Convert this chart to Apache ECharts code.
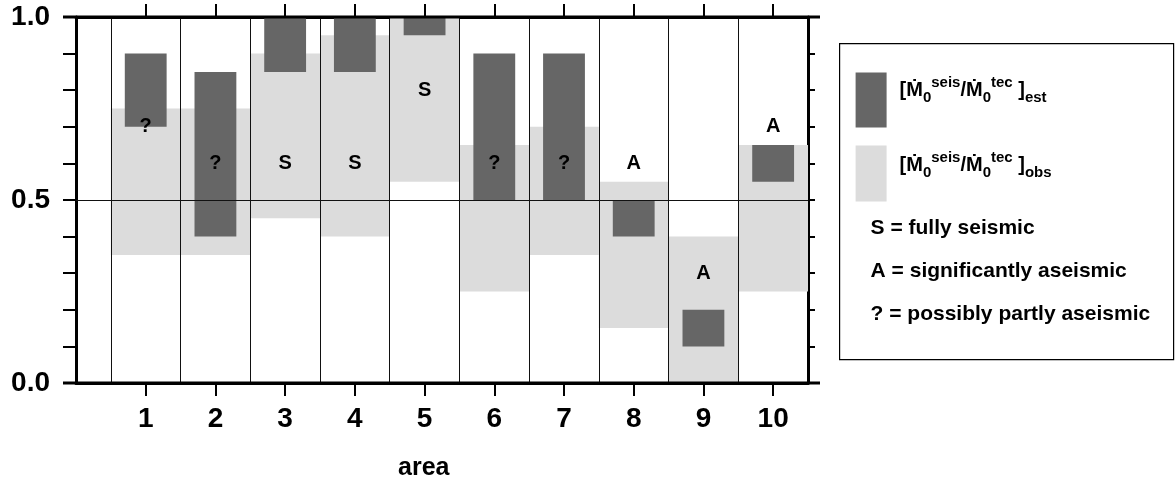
<!DOCTYPE html>
<html>
<head>
<meta charset="utf-8">
<script src="https://cdn.jsdelivr.net/npm/echarts@6/dist/echarts.min.js"></script>
<style>
  html, body { margin: 0; padding: 0; background: #fff; }
  #chart { width: 1176px; height: 480px; }
</style>
</head>
<body>
<div id="chart"></div>
<script>
// Seismic / tectonic moment-rate ratio per study area
const areas    = [1, 2, 3, 4, 5, 6, 7, 8, 9, 10];
const obsLow   = [0.35, 0.35, 0.45, 0.40, 0.55, 0.25, 0.35, 0.15, 0.00, 0.25];
const obsHigh  = [0.75, 0.75, 0.90, 0.95, 1.00, 0.65, 0.70, 0.55, 0.40, 0.65];
const estLow   = [0.70, 0.40, 0.85, 0.85, 0.95, 0.50, 0.50, 0.40, 0.10, 0.55];
const estHigh  = [0.90, 0.85, 1.00, 1.00, 1.00, 0.90, 0.90, 0.50, 0.20, 0.65];
// classification code for each area and the ratio value it is written at
const codes    = ['?', '?', 'S', 'S', 'S', '?', '?', 'A', 'A', 'A'];
const codeAt   = [0.70, 0.60, 0.60, 0.60, 0.80, 0.60, 0.60, 0.60, 0.30, 0.70];
const dividers = [0.5, 1.5, 2.5, 3.5, 4.5, 5.5, 6.5, 7.5, 8.5, 9.5];
const xTicks   = [1, 2, 3, 4, 5, 6, 7, 8, 9, 10];
const yLabelled = [0.0, 0.5, 1.0];
const legendCodes = ['S = fully seismic', 'A = significantly aseismic', '? = possibly partly aseismic'];

const FONT = 'Liberation Sans, Arial, Helvetica, sans-serif';
const LIGHT = '#dcdcdc';
const DARK = '#666666';
const X_MIN = 0, X_MAX = 10.5;

function rangeSeries(name, lows, highs, halfW, color, z, extra) {
  return Object.assign({
    name: name,
    type: 'custom',
    z: z,
    silent: true,
    data: areas.map((a, i) => [a, lows[i], highs[i]]),
    renderItem: function (params, api) {
      const x = api.value(0), lo = api.value(1), hi = api.value(2);
      const p0 = api.coord([x - halfW, hi]);
      const p1 = api.coord([x + halfW, lo]);
      return {
        type: 'rect',
        shape: { x: p0[0], y: p0[1], width: p1[0] - p0[0], height: p1[1] - p0[1] },
        style: { fill: color }
      };
    }
  }, extra || {});
}

const frameX = (pos, showLabels) => ({
  type: 'value', position: pos, min: X_MIN, max: X_MAX, interval: 1,
  axisLine: { show: true, onZero: false, lineStyle: { color: '#000', width: 3 } },
  axisTick: { show: true, inside: false, length: 13, customValues: xTicks,
              lineStyle: { color: '#000', width: 2 } },
  axisLabel: { show: showLabels, customValues: xTicks, margin: 22,
               fontFamily: FONT, fontWeight: 'bold', fontSize: 28, lineHeight: 28, color: '#000' },
  splitLine: { show: false }
});

const frameY = (pos, showLabels, tickLen) => ({
  type: 'value', position: pos, min: 0, max: 1, interval: 0.1,
  axisLine: { show: true, onZero: false, lineStyle: { color: '#000', width: 3 } },
  axisTick: { show: true, inside: false, length: tickLen, lineStyle: { color: '#000', width: 2 } },
  axisLabel: {
    show: showLabels, margin: 26,
    fontFamily: FONT, fontWeight: 'bold', fontSize: 28, color: '#000',
    formatter: function (v) {
      const hit = yLabelled.find(t => Math.abs(t - v) < 1e-6);
      return hit === undefined ? '' : hit.toFixed(1);
    }
  },
  splitLine: { show: false }
});

const ratioRich = {
  m:   { fontFamily: FONT, fontWeight: 'bold', fontSize: 20, lineHeight: 30, color: '#000' },
  sup: { fontFamily: FONT, fontWeight: 'bold', fontSize: 15, lineHeight: 15, verticalAlign: 'top', color: '#000' },
  sub: { fontFamily: FONT, fontWeight: 'bold', fontSize: 15, lineHeight: 14, verticalAlign: 'bottom', color: '#000' }
};
const ratioText = (tag) => '{m|[Ṁ}{sub|0}{sup|seis}{m|/Ṁ}{sub|0}{sup|tec}{m| ]}{sub|' + tag + '}';

const option = {
  backgroundColor: '#fff',
  animation: false,
  grid: { left: 76, right: 368, top: 17, bottom: 97, containLabel: false },
  xAxis: [frameX('bottom', true), frameX('top', false)],
  yAxis: [frameY('left', true, 13), frameY('right', false, 7)],
  series: [
    rangeSeries('obs', obsLow, obsHigh, 0.5, LIGHT, 1, {
      markLine: {
        silent: true, symbol: 'none', animation: false,
        label: { show: false },
        lineStyle: { color: '#111', width: 1, type: 'solid' },
        data: dividers.map(v => ({ xAxis: v })).concat([{ yAxis: 0.5 }])
      }
    }),
    rangeSeries('est', estLow, estHigh, 0.3, DARK, 3),
    {
      name: 'codes',
      type: 'custom',
      z: 4,
      silent: true,
      data: areas.map((a, i) => [a, codeAt[i]]),
      renderItem: function (params, api) {
        const p = api.coord([api.value(0), api.value(1)]);
        return {
          type: 'text',
          style: {
            x: p[0], y: p[1], text: codes[params.dataIndex],
            align: 'center', verticalAlign: 'middle',
            font: 'bold 20px ' + FONT, fill: '#000'
          }
        };
      }
    }
  ],
  graphic: [
    {
      type: 'text', left: 398, top: 456,
      style: { text: 'area', font: 'bold 25px ' + FONT, fill: '#000' }
    },
    {
      type: 'group', left: 839, top: 43,
      children: [
        { type: 'rect', shape: { x: 0, y: 0, width: 334, height: 316 },
          style: { fill: '#fff', stroke: '#000', lineWidth: 1.2 } },
        { type: 'rect', shape: { x: 16, y: 29, width: 31, height: 55 }, style: { fill: DARK } },
        { type: 'rect', shape: { x: 16, y: 102, width: 31, height: 56 }, style: { fill: LIGHT } },
        { type: 'text', x: 60, y: 47,
          style: { text: ratioText('est'), rich: ratioRich, verticalAlign: 'middle' } },
        { type: 'text', x: 60, y: 121.5,
          style: { text: ratioText('obs'), rich: ratioRich, verticalAlign: 'middle' } },
        { type: 'text', x: 31, y: 184.5,
          style: { text: legendCodes[0], font: 'bold 21px ' + FONT, fill: '#000', verticalAlign: 'middle' } },
        { type: 'text', x: 31, y: 227.5,
          style: { text: legendCodes[1], font: 'bold 21px ' + FONT, fill: '#000', verticalAlign: 'middle' } },
        { type: 'text', x: 31, y: 271,
          style: { text: legendCodes[2], font: 'bold 21px ' + FONT, fill: '#000', verticalAlign: 'middle' } }
      ]
    }
  ]
};

const chart = echarts.init(document.getElementById('chart'), null, { renderer: 'canvas' });
chart.setOption(option);

// The top and bottom frame lines run a tick-length past the plot on both sides.
const pTopL = chart.convertToPixel({ xAxisIndex: 0, yAxisIndex: 0 }, [X_MIN, 1]);
const pTopR = chart.convertToPixel({ xAxisIndex: 0, yAxisIndex: 0 }, [X_MAX, 1]);
const pBotL = chart.convertToPixel({ xAxisIndex: 0, yAxisIndex: 0 }, [X_MIN, 0]);
const pBotR = chart.convertToPixel({ xAxisIndex: 0, yAxisIndex: 0 }, [X_MAX, 0]);
const frameExt = (a, b) => ({
  type: 'line', z: 10, silent: true,
  shape: { x1: a[0] - 13, y1: a[1], x2: b[0] + 12, y2: b[1] },
  style: { stroke: '#000', lineWidth: 3 }
});
chart.setOption({
  graphic: option.graphic.concat([frameExt(pTopL, pTopR), frameExt(pBotL, pBotR)])
});
</script>
</body>
</html>
